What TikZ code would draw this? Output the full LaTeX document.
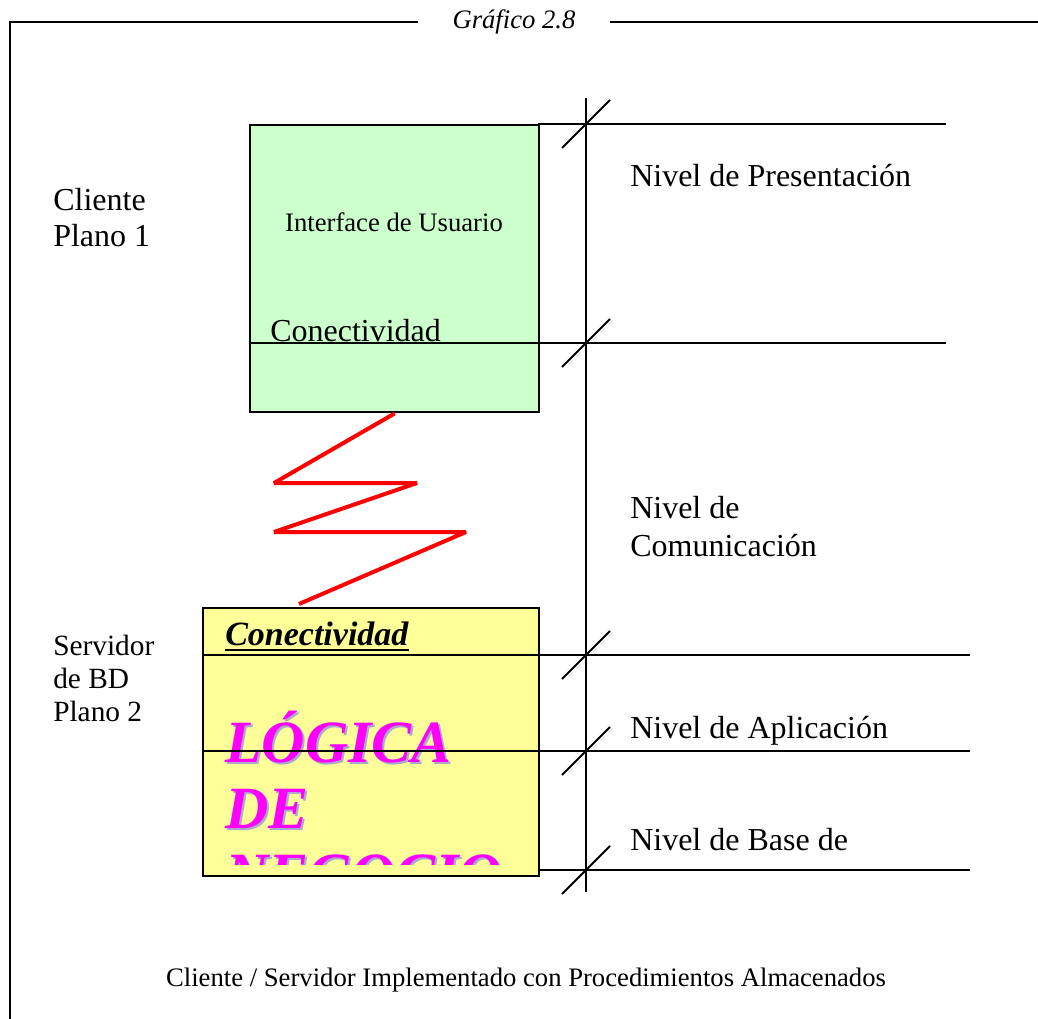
\documentclass[tikz,border=0pt]{standalone}
\usepackage{fontspec}
\setmainfont{Liberation Serif}
\usepackage{tikz}
\usetikzlibrary{positioning}
\definecolor{verdeui}{HTML}{CCFFCC}
\definecolor{amarillobd}{HTML}{FFFF99}
\definecolor{magentalogica}{HTML}{FF00FF}
\definecolor{sombralogica}{HTML}{A9A9CC}

\begin{document}
\begin{tikzpicture}[x=0.75pt,y=-0.75pt]
	\tikzset{
		plano/.style={draw,line width=1.8pt,inner sep=0,anchor=north west},
		nivel/.style={line width=1.4pt},
		etiqueta/.style={anchor=base west,inner sep=0,align=left},
		logica/.style={anchor=base west,inner sep=0,font=\fontsize{45pt}{45pt}\selectfont\bfseries\itshape},
		enlace/.style={draw=red,line width=3pt,line join=bevel}
	}
	\useasboundingbox (0,0) rectangle (1038,1019);
	
	% marco
	\node[inner xsep=26pt,inner ysep=0,font=\fontsize{20pt}{20pt}\selectfont\itshape] (titulo) at (514,22) {Gráfico 2.8};
	\draw[line width=1.3pt] (10,1019) -- (10,22) -- (titulo.west);
	\draw[line width=1.3pt] (titulo.east) -- (1038,22);
	
	% planos
	\node[plano,fill=verdeui,minimum width=216.75pt,minimum height=215.25pt] (ui) at (249,124) {};
	\node[plano,fill=amarillobd,minimum width=252pt,minimum height=201pt] (bd) at (202,607) {};
	
	\node[anchor=base,font=\fontsize{20pt}{20pt}\selectfont] (interfaz) at (394,232) {Interface de Usuario};
	\node[etiqueta,font=\fontsize{24pt}{24pt}\selectfont] (conecui) at (270,342) {Conectividad};
	\node[etiqueta,font=\fontsize{25.5pt}{25.5pt}\selectfont\bfseries\itshape] (conecbd) at (225,645) {Conectividad};
	\draw[line width=1.5pt] ([yshift=-4pt]conecbd.base west) -- ([yshift=-4pt]conecbd.base east);
	
	\begin{scope}
	\clip (bd.north west) rectangle (538,864);
	\foreach \palabra/\yy [count=\i] in {LÓGICA/762, DE/828, NEGOCIO/894}{
		\node[logica,text=sombralogica] (sombra\i) at (227,\yy+2) {\palabra};
		\node[logica,text=magentalogica] (logica\i) at (225,\yy) {\palabra};
	}
	\end{scope}
	
	% niveles
	\draw[nivel] (586,98) -- (586,892);
	\foreach \yy/\xa/\xb in {124/538/946, 343/249/946, 655/202/970, 751/202/970, 870/538/970}{
		\draw[nivel] (\xa,\yy) -- (\xb,\yy);
		\draw[nivel] (562,\yy+24) -- (610,\yy-24);
	}
	
	\coordinate (zfin) at (299,604);
	\draw[enlace] (ui.south) -- (274,483) -- (417,483) -- (274,532) -- (466,532) -- (zfin);
	
	\node[etiqueta,font=\fontsize{24pt}{27pt}\selectfont] (cliente) at (53,247) {Cliente\\Plano 1};
	\node[etiqueta,font=\fontsize{22pt}{24.75pt}\selectfont] (servidor) at (53,721) {Servidor\\de BD\\Plano 2};
	
	\node[etiqueta,font=\fontsize{24pt}{24pt}\selectfont] (presentacion) at (630,187) {Nivel de Presentación};
	\node[etiqueta,font=\fontsize{24pt}{28.5pt}\selectfont] (comunicacion) at (630,556) {Nivel de\\Comunicación};
	\node[etiqueta,font=\fontsize{24pt}{24pt}\selectfont] (aplicacion) at (630,738) {Nivel de Aplicación};
	\node[etiqueta,font=\fontsize{24pt}{24pt}\selectfont] (basedatos) at (630,850) {Nivel de Base de};
	
	\node[anchor=base,font=\fontsize{20pt}{20pt}\selectfont] (pie) at (526,986) {Cliente / Servidor Implementado con Procedimientos Almacenados};
\end{tikzpicture}
\end{document}
